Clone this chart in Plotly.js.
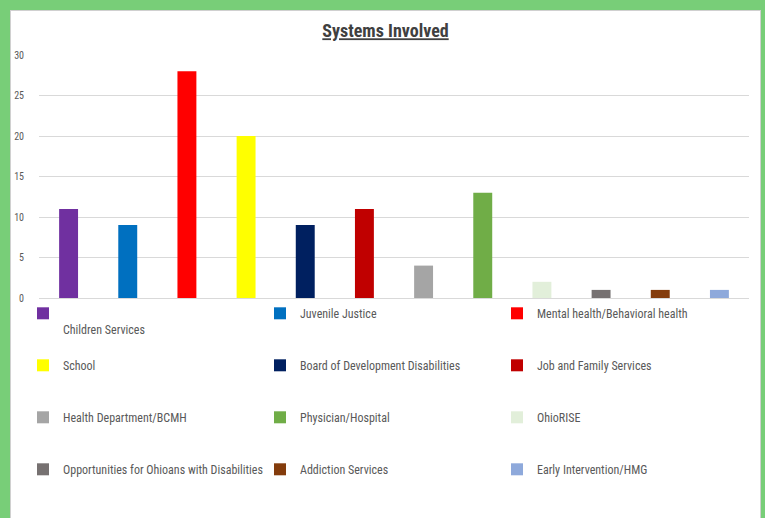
<!DOCTYPE html>
<html>
<head>
<meta charset="utf-8">
<script src="https://cdn.plot.ly/plotly-3.0.1.min.js"></script>
<style>
  html, body { margin: 0; padding: 0; background: #78CE78; width: 765px; height: 518px; overflow: hidden; }
  #chart { position: absolute; left: 10px; top: 10px; width: 749px; height: 508px; background: #fff; border: 1px solid #d0d0d0; border-bottom: none; }
</style>
</head>
<body>
<div id="chart"></div>
<script>
const categories = [
  "Children Services", "Juvenile Justice", "Mental health/Behavioral health",
  "School", "Board of Development Disabilities", "Job and Family Services",
  "Health Department/BCMH", "Physician/Hospital", "OhioRISE",
  "Opportunities for Ohioans with Disabilities", "Addiction Services", "Early Intervention/HMG"
];
const counts = [11, 9, 28, 20, 9, 11, 4, 13, 2, 1, 1, 1];
const barColors = [
  "#7030A0", "#0070C0", "#FF0000",
  "#FFFF00", "#002060", "#C00000",
  "#A5A5A5", "#70AD47", "#E2EFDA",
  "#767171", "#843C0C", "#8EA9DB"
];
const yTicks = [0, 5, 10, 15, 20, 25, 30];

const FONT = '"Liberation Sans Narrow", "Roboto Condensed", Lato, sans-serif';
const legendNames = ["legend", "legend2", "legend3", "legend4"];

const traces = categories.map((c, i) => ({
  type: "bar",
  x: [c],
  y: [counts[i]],
  name: i === 0 ? " <br>" + c : c,   // first label starts on a new line in the original
  marker: { color: barColors[i] },
  width: 0.32,
  legend: legendNames[Math.floor(i / 3)],
  hoverinfo: "x+y"
}));

const W = 749, H = 508;
const legends = {};
legendNames.forEach((ln, r) => {
  legends[ln] = {
    orientation: "h",
    xref: "container", yref: "container",
    x: 12 / W, xanchor: "left",
    y: (H - 288 - r * 52) / H, yanchor: "top",
    entrywidth: 192, entrywidthmode: "pixels",
    valign: "top",
    traceorder: "normal",
    font: { family: FONT, size: 12, color: "#595959" },
    bgcolor: "rgba(0,0,0,0)",
    itemclick: false, itemdoubleclick: false
  };
});

const layout = Object.assign({
  width: W, height: H,
  margin: { l: 28, r: 11, t: 44, b: 221 },
  paper_bgcolor: "#ffffff",
  plot_bgcolor: "#ffffff",
  barmode: "overlay",
  title: {
    text: '<b><span style="text-decoration:underline">Systems Involved</span></b>',
    x: 0.5, xanchor: "center",
    y: 1 - 20 / H, yanchor: "middle",
    font: { family: FONT, size: 18, color: "#404040" }
  },
  xaxis: {
    type: "category",
    categoryorder: "array", categoryarray: categories,
    range: [-0.5, categories.length - 0.5],
    showticklabels: false, ticks: "", showgrid: false,
    zeroline: false, showline: true, linecolor: "#d9d9d9", linewidth: 1,
    fixedrange: true
  },
  yaxis: {
    range: [0, 30],
    tickvals: yTicks,
    ticktext: yTicks.map(String),
    tickfont: { family: FONT, size: 10, color: "#595959" },
    showgrid: true, gridcolor: "#d9d9d9", gridwidth: 1,
    zeroline: false, showline: false, ticks: "",
    ticklabelstandoff: 14,
    fixedrange: true
  },
  showlegend: true
}, legends);

Plotly.newPlot("chart", traces, layout, { displayModeBar: false });
</script>
</body>
</html>
